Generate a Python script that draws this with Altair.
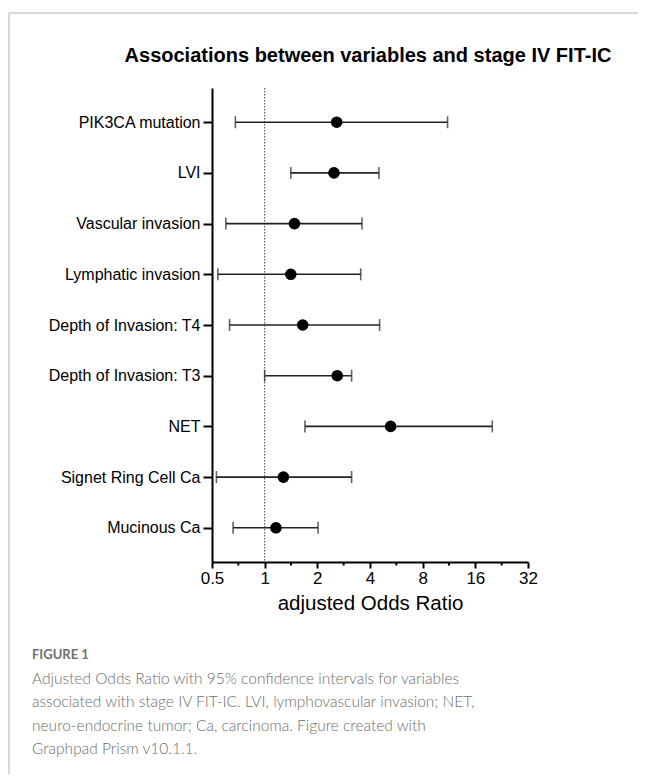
import altair as alt
import pandas as pd

categories = ["PIK3CA mutation", "LVI", "Vascular invasion", "Lymphatic invasion",
              "Depth of Invasion: T4", "Depth of Invasion: T3", "NET\u00a0\u00a0",
              "Signet Ring Cell Ca", "Mucinous Ca"]
odds_ratio = [2.58, 2.49, 1.48, 1.41, 1.65, 2.60, 5.25, 1.28, 1.16]
ci_low = [0.68, 1.41, 0.60, 0.54, 0.63, 1.00, 1.70, 0.53, 0.66]
ci_high = [11.1, 4.5, 3.6, 3.54, 4.54, 3.14, 20.0, 3.14, 2.02]
x_ticks = [0.5, 1, 2, 4, 8, 16, 32]
minor_ticks = [0.707, 1.414, 2.828, 5.657, 11.31, 22.63]

title_text = "Associations between variables and stage IV FIT-IC"
x_title = "adjusted Odds Ratio"
fig_label = "FIGURE 1"
caption_lines = [
    "Adjusted Odds Ratio with 95% confidence intervals for variables",
    "associated with stage IV FIT-IC. LVI, lymphovascular invasion; NET,",
    "neuro-endocrine tumor; Ca, carcinoma. Figure created with",
    "Graphpad Prism v10.1.1.",
]

df = pd.DataFrame({"cat": categories, "or": odds_ratio, "lo": ci_low, "hi": ci_high})
minor_df = pd.DataFrame({"v": minor_ticks})
one = pd.DataFrame({"a": [0]})

FONT = "Liberation Sans"
W, H = 316, 474

xscale = alt.Scale(type="log", base=2, domain=[0.5, 32], nice=False)
yscale = alt.Scale(type="point", padding=0.675)

yenc = alt.Y("cat:N", sort=categories, scale=yscale,
             axis=alt.Axis(title=None, labelFont=FONT, labelFontSize=16, labelColor="black",
                           labelPadding=3, tickSize=9, tickWidth=2, tickColor="black",
                           domainWidth=2, domainColor="black", grid=False))

xaxis = alt.Axis(values=x_ticks, format="~g", title=x_title, labelFont=FONT, labelFontSize=17,
                 labelColor="black", labelPadding=2, tickSize=6, tickWidth=2, tickColor="black",
                 domainWidth=2, domainColor="black", grid=False, titleFont=FONT,
                 titleFontSize=20.5, titleFontWeight="normal", titleColor="black", titlePadding=7,
                 labelFlush=False)

base = alt.Chart(df)

rules = base.mark_rule(color="#222", strokeWidth=1.6).encode(
    x=alt.X("lo:Q", scale=xscale, axis=xaxis), x2="hi:Q", y=yenc)
cap_lo = base.mark_tick(color="#222", size=12, thickness=1.6).encode(
    x=alt.X("lo:Q", scale=xscale), y=alt.Y("cat:N", sort=categories, scale=yscale))
cap_hi = base.mark_tick(color="#222", size=12, thickness=1.6).encode(
    x=alt.X("hi:Q", scale=xscale), y=alt.Y("cat:N", sort=categories, scale=yscale))
dots = base.mark_circle(color="black", opacity=1, size=135).encode(
    x=alt.X("or:Q", scale=xscale), y=alt.Y("cat:N", sort=categories, scale=yscale))

ref = alt.Chart(one).mark_rule(color="#444", strokeWidth=1, strokeDash=[1.5, 1.5]).encode(
    x=alt.X(datum=1, scale=xscale))

minor = alt.Chart(minor_df).mark_rule(color="black", strokeWidth=2).encode(
    x=alt.X("v:Q", scale=xscale), y=alt.value(H), y2=alt.value(H + 3.5))

title = alt.Chart(one).mark_text(text=title_text, font=FONT, fontSize=20, fontWeight="bold",
                                 color="black", align="center", baseline="middle").encode(
    x=alt.value(156), y=alt.value(-32))

border_top = alt.Chart(one).mark_rule(color="#cccccc", strokeWidth=1.5).encode(
    x=alt.value(-203), x2=alt.value(430), y=alt.value(-75))
border_left = alt.Chart(one).mark_rule(color="#cccccc", strokeWidth=1.5).encode(
    x=alt.value(-203), y=alt.value(-75), y2=alt.value(700))

fig = alt.Chart(one).mark_text(text=fig_label, font="Lato", fontSize=13, fontWeight="bold",
                               color="#707070", align="left", baseline="middle").encode(
    x=alt.value(-180), y=alt.value(567))
caption = alt.Chart(one).mark_text(text=caption_lines, font="Lato", fontSize=15.5,
                                   fontWeight=300, color="#6e6e6e", align="left",
                                   baseline="alphabetic", lineHeight=23.4).encode(
    x=alt.value(-180), y=alt.value(596))

chart = alt.layer(border_top, border_left, ref, rules, cap_lo, cap_hi, dots, minor,
                  title, fig, caption).properties(
    width=W, height=H,
    autosize=alt.AutoSizeParams(type="none"),
    padding={"left": 204, "top": 80, "right": 110, "bottom": 212},
    background="white",
).configure_view(stroke=None)

chart.save("out.html", embed_options={"renderer": "svg", "actions": False})
